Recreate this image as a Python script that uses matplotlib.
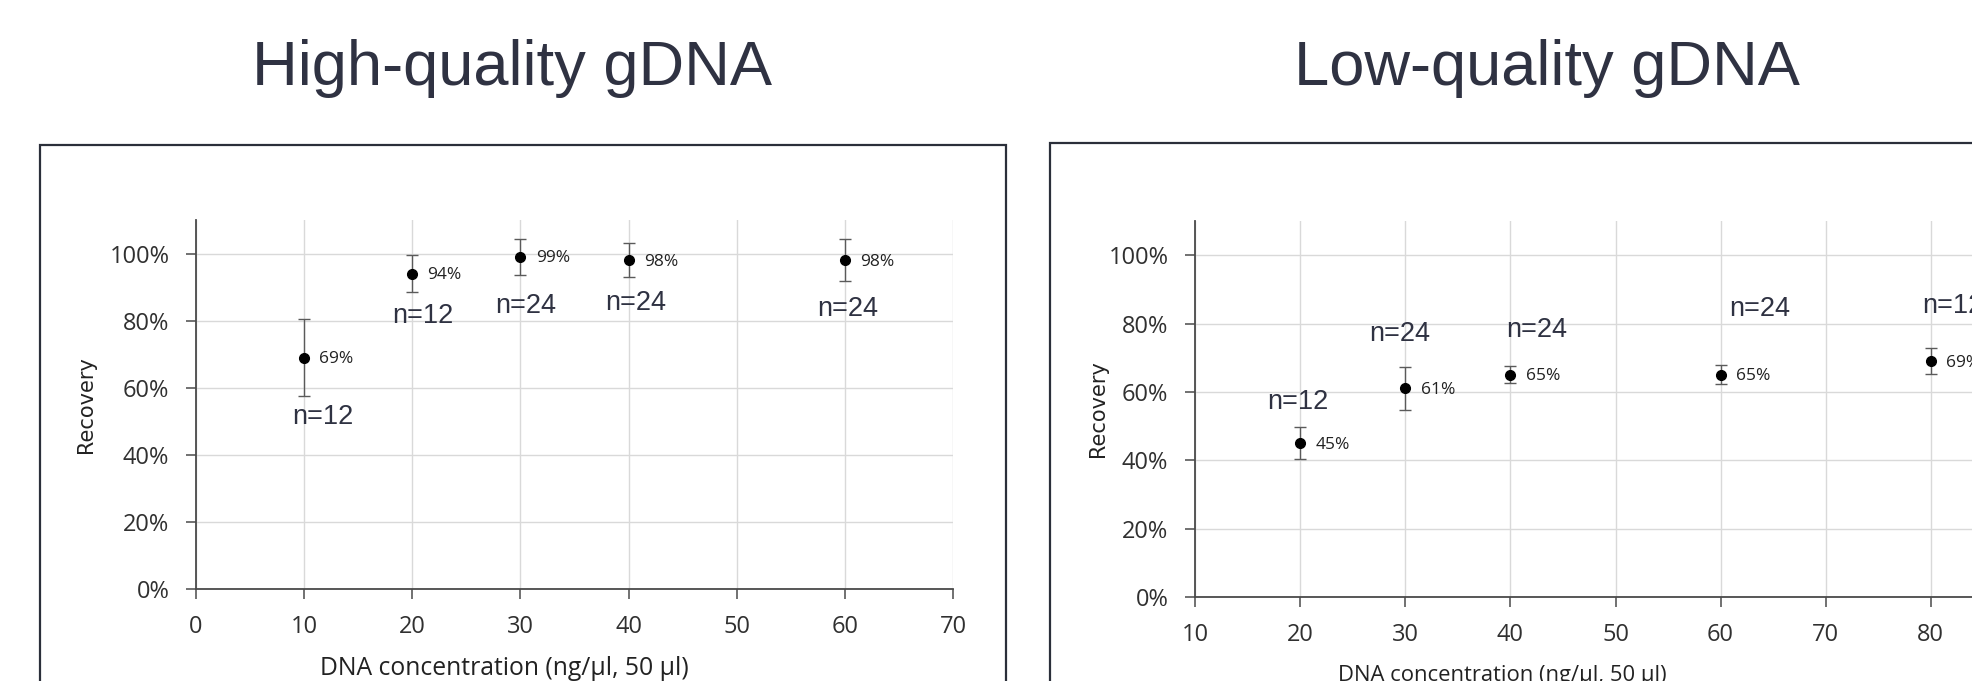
import matplotlib
matplotlib.use("Agg")
import matplotlib.pyplot as plt
from matplotlib.patches import Rectangle
from matplotlib.ticker import PercentFormatter

# recovery data, high-quality gDNA
hq_conc = [10, 20, 30, 40, 60]
hq_recovery = [69, 94, 99, 98, 98]
hq_err = [11.4, 5.6, 5.4, 5.0, 6.3]
hq_n = ["n=12", "n=12", "n=24", "n=24", "n=24"]
hq_n_pos = [(11.7, 51.3), (21.0, 81.3), (30.5, 84.3), (40.7, 85.3), (60.3, 83.6)]

# recovery data, low-quality gDNA
lq_conc = [20, 30, 40, 60, 80]
lq_recovery = [45, 61, 65, 65, 69]
lq_err = [4.6, 6.3, 2.5, 2.8, 3.8]
lq_n = ["n=12", "n=24", "n=24", "n=24", "n=12"]
lq_n_pos = [(19.8, 57.0), (29.5, 76.8), (42.5, 78.0), (63.7, 84.3), (82.1, 85.0)]

TXT = "#2f3242"
GRID = "#d9d9d9"
AX = "#4a4a4a"

W, H = 1972, 681
fig = plt.figure(figsize=(W / 100, H / 100), dpi=100)


def px(x0, y_bottom, x1, y_top):
    return [x0 / W, 1 - y_bottom / H, (x1 - x0) / W, (y_bottom - y_top) / H]


def panel(rect, conc, rec, err, ns, npos, xlim, xticks, xlab_pos, xlab_size, ylab_x):
    ax = fig.add_axes(rect)
    ax.errorbar(conc, rec, yerr=err, fmt="o", color="black", ms=7,
                ecolor="#5a5a5a", elinewidth=1, capsize=4, capthick=1, zorder=3)
    for x, y in zip(conc, rec):
        ax.annotate(f"{y}%", (x, y), xytext=(11, -1), textcoords="offset points",
                    ha="left", va="center", fontsize=12.5, family="Open Sans",
                    color="#222222")
    for lab, (x, y) in zip(ns, npos):
        ax.text(x, y, lab, ha="center", va="center", fontsize=19.5,
                family="Liberation Sans", color=TXT)
    ax.set_xlim(*xlim)
    ax.set_ylim(0, 110)
    ax.set_xticks(xticks)
    ax.set_yticks(range(0, 101, 20))
    ax.yaxis.set_major_formatter(PercentFormatter(decimals=0))
    ax.grid(True, color=GRID, lw=1)
    ax.set_axisbelow(True)
    for s in ("top", "right"):
        ax.spines[s].set_visible(False)
    for s in ("left", "bottom"):
        ax.spines[s].set_color(AX)
        ax.spines[s].set_linewidth(1.3)
    ax.tick_params(axis="both", length=7.2, width=1.1, color=AX, labelsize=17,
                   labelcolor="#303030")
    ax.tick_params(axis="x", pad=11.5)
    ax.tick_params(axis="y", pad=12)
    for t in ax.get_xticklabels() + ax.get_yticklabels():
        t.set_family("Open Sans")
    ax.set_xlabel("DNA concentration (ng/µl, 50 µl)", family="Open Sans",
                  fontsize=xlab_size, color="#222222")
    ax.xaxis.set_label_coords(*xlab_pos)
    ax.set_ylabel("Recovery", family="DejaVu Sans", fontsize=15, color="#222222")
    ax.yaxis.set_label_coords(ylab_x, 0.5)
    return ax


panel(px(196, 589, 953, 220), hq_conc, hq_recovery, hq_err, hq_n, hq_n_pos,
      (0, 70), range(0, 71, 10), (0.408, -0.182), 17.8, -0.132)
panel(px(1195, 597, 2036, 221), lq_conc, lq_recovery, lq_err, lq_n, lq_n_pos,
      (10, 90), range(10, 91, 10), (0.366, -0.18), 15.8, -0.103)

# outer frames around each panel
for x0, x1, top in ((40, 1006, 145), (1050, 2100, 143)):
    fig.add_artist(Rectangle((x0 / W, -0.2), (x1 - x0) / W, 1.2 - top / H,
                             transform=fig.transFigure, fill=False,
                             edgecolor="#2b2f3a", lw=1.6))

fig.text(512 / W, 1 - 85.5 / H, "High-quality gDNA", ha="center", va="baseline",
         fontsize=45.5, family="Liberation Sans", color=TXT)
fig.text(1547 / W, 1 - 85.5 / H, "Low-quality gDNA", ha="center", va="baseline",
         fontsize=45.5, family="Liberation Sans", color=TXT)

fig.savefig("out.png", dpi=100, facecolor="white")
